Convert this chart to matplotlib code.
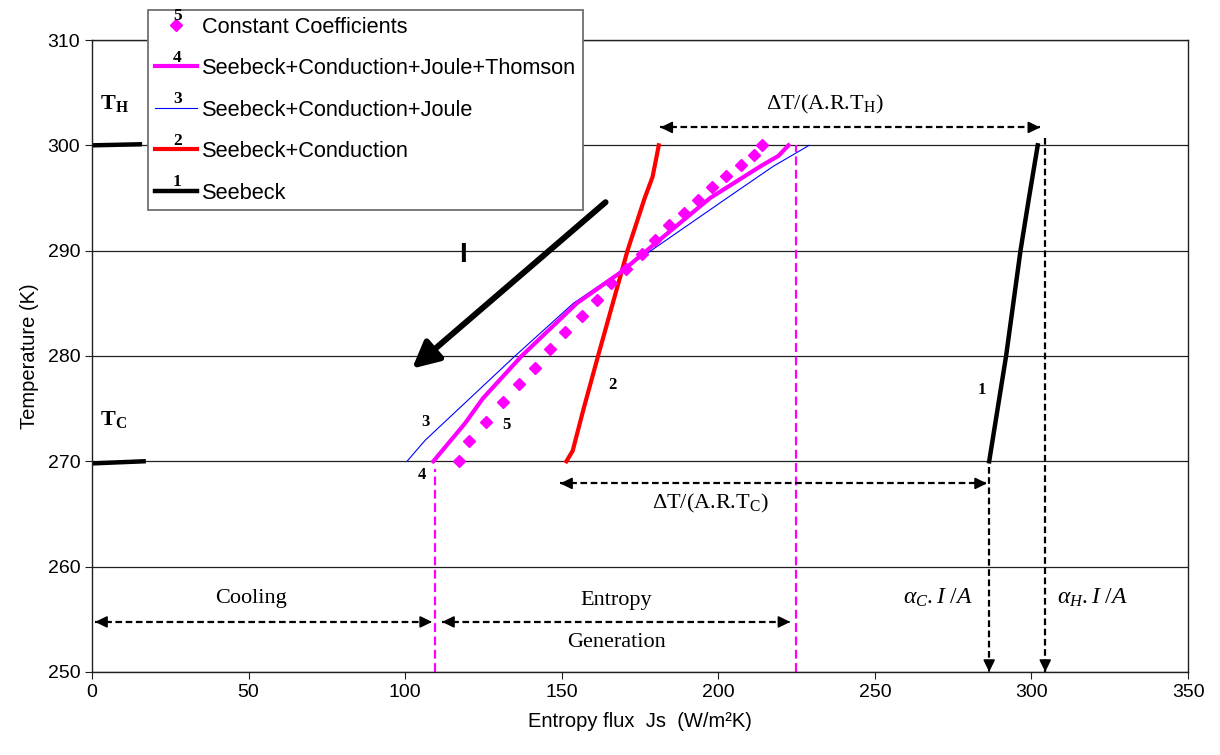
import matplotlib
matplotlib.use('Agg')
import matplotlib.pyplot as plt
from matplotlib.legend_handler import HandlerLine2D
from matplotlib.text import Text

plt.rcParams['font.family'] = 'Liberation Sans'
plt.rcParams['mathtext.fontset'] = 'custom'
plt.rcParams['mathtext.rm'] = 'Liberation Serif'
plt.rcParams['mathtext.it'] = 'Liberation Serif:italic'
plt.rcParams['mathtext.bf'] = 'Liberation Serif:bold'

# 1 : Seebeck
T1 = [270, 275, 280, 285, 290, 295, 300]
Js1 = [286.5, 289.2, 291.9, 294.2, 296.5, 299.2, 302.0]
# repères T_H / T_C à gauche
TH_x = [0, 15.3]
TH_y = [300.0, 300.1]
TC_x = [0, 16.5]
TC_y = [269.8, 270.0]

# 2 : Seebeck+Conduction
T2 = [270, 271, 275, 280, 285, 290, 295, 297, 300]
Js2 = [151.5, 153.5, 157.0, 161.6, 166.3, 171.0, 176.5, 179.0, 181.0]

# 3 : Seebeck+Conduction+Joule
T3 = [270, 272, 280, 285, 288, 290, 295, 298, 300]
Js3 = [100.6, 106.4, 135.1, 153.7, 168.6, 178.5, 202.8, 217.5, 229.0]

# 4 : Seebeck+Conduction+Joule+Thomson
T4 = [270, 273.6, 276, 280, 285, 288, 290, 295, 298, 299, 300]
Js4 = [109.0, 119.1, 124.9, 137.2, 154.8, 169.1, 177.1, 197.4, 213.4, 219.2, 222.4]

# 5 : Constant Coefficients
T5 = [270.0, 271.9, 273.7, 275.6, 277.3, 278.9, 280.7, 282.3, 283.8, 285.3, 286.9,
      288.3, 289.7, 291.0, 292.4, 293.6, 294.8, 296.0, 297.1, 298.1, 299.1, 300.0]
Js5 = [117.2, 120.5, 125.8, 131.1, 136.2, 141.5, 146.3, 151.1, 156.4, 161.2, 165.6,
       170.4, 175.5, 179.8, 184.4, 189.1, 193.4, 198.1, 202.4, 207.1, 211.4, 213.9]

labels = ['Constant Coefficients', 'Seebeck+Conduction+Joule+Thomson',
          'Seebeck+Conduction+Joule', 'Seebeck+Conduction', 'Seebeck']
nums = ['5', '4', '3', '2', '1']

serif = 'Liberation Serif'


class NumHandler(HandlerLine2D):
    # trait de légende avec son numéro au-dessus
    def __init__(self, num, **kw):
        super().__init__(**kw)
        self.num = num

    def create_artists(self, legend, orig_handle, xdescent, ydescent, width, height, fontsize, trans):
        arts = super().create_artists(legend, orig_handle, xdescent, ydescent, width, height,
                                      fontsize, trans)
        t = Text(width / 2 - xdescent + 1, (height - ydescent) / 2 + 0.5, self.num,
                 ha='center', va='bottom', fontsize=12.5, fontweight='bold', family=serif,
                 transform=trans)
        arts.append(t)
        return arts


def fleche(x0, y0, x1, y1, deux=True):
    ax.plot([x0, x1], [y0, y1], color='k', lw=1.6, ls=(0, (3, 1.6)), zorder=4)
    ends = [((x0, y0), (x1, y1))]
    if deux:
        ends.append(((x1, y1), (x0, y0)))
    for a, b in ends:
        xa = b[0] - (b[0] - a[0]) * 0.01
        ya = b[1] - (b[1] - a[1]) * 0.01
        ax.annotate('', xy=b, xytext=(xa, ya),
                    arrowprops=dict(arrowstyle='-|>,head_length=0.45,head_width=0.22',
                                    mutation_scale=16, color='k', lw=1.2,
                                    shrinkA=0, shrinkB=0), zorder=5)


fig = plt.figure(figsize=(12.2, 7.55), dpi=100)
ax = fig.add_subplot(111)
fig.subplots_adjust(left=0.0754, right=0.9738, top=0.947, bottom=0.110)

ax.plot(TH_x, TH_y, color='k', lw=3.2)
ax.plot(TC_x, TC_y, color='k', lw=3.2)

l1, = ax.plot(Js1, T1, color='k', lw=3.2, zorder=3)
l2, = ax.plot(Js2, T2, color='#ff0000', lw=3, zorder=3)
l3, = ax.plot(Js3, T3, color='#0000ff', lw=0.8, zorder=3)
l4, = ax.plot(Js4, T4, color='#ff00ff', lw=3, zorder=3)
l5, = ax.plot(Js5, T5, ls='none', marker='D', ms=6, color='#ff00ff', zorder=3)

# limites magenta
ax.plot([109.5, 109.5], [250, 269.3], color='#ff00ff', lw=1.6, ls=(0, (4, 2)))
ax.plot([224.8, 224.8], [250, 300], color='#ff00ff', lw=1.6, ls=(0, (4, 2)))

# flèches en pointillés
fleche(181.5, 301.7, 302.8, 301.7)
fleche(149.5, 267.9, 285.8, 267.9)
fleche(1.0, 254.75, 108.6, 254.75)
fleche(111.8, 254.75, 223.0, 254.75)
fleche(286.5, 269.5, 286.5, 250.0, deux=False)
fleche(304.4, 300.7, 304.4, 250.0, deux=False)

# courant I
ax.annotate('', xy=(102.2, 278.8), xytext=(164.0, 294.6),
            arrowprops=dict(arrowstyle='-|>,head_length=0.8,head_width=0.4',
                            mutation_scale=20, color='k', lw=4.3, shrinkA=0, shrinkB=0))
ax.text(118.5, 289.6, 'I', fontsize=20, fontweight='bold', ha='center', va='center')

# numéros des courbes
for n, x, y in [('1', 284.1, 276.8), ('2', 166.2, 277.2), ('3', 106.6, 273.7),
                ('4', 105.3, 268.7), ('5', 132.4, 273.4)]:
    ax.text(x, y, n, fontsize=12, fontweight='bold', family=serif, ha='center', va='center')

ax.text(2.5, 304.0, r'$\mathbf{T}_\mathbf{H}$', fontsize=16, ha='left', va='center')
ax.text(2.5, 274.0, r'$\mathbf{T}_\mathbf{C}$', fontsize=16, ha='left', va='center')

ax.text(234.1, 303.9, r'ΔT/(A.R.T$_\mathregular{H}$)', fontsize=16, family=serif,
        ha='center', va='center')
ax.text(197.4, 266.0, r'ΔT/(A.R.T$_\mathregular{C}$)', fontsize=16, family=serif,
        ha='center', va='center')
ax.text(50.7, 257.0, 'Cooling', fontsize=16, family=serif, ha='center', va='center')
ax.text(167.5, 256.8, 'Entropy', fontsize=16, family=serif, ha='center', va='center')
ax.text(167.5, 252.8, 'Generation', fontsize=16, family=serif, ha='center', va='center')
ax.text(270.2, 257.0, r'$\alpha_C.I\ /A$', fontsize=17, ha='center', va='center')
ax.text(319.4, 257.0, r'$\alpha_H.I\ /A$', fontsize=17, ha='center', va='center')

ax.set_xlim(0, 350)
ax.set_ylim(250, 310)
ax.set_xticks(range(0, 351, 50))
ax.set_yticks(range(250, 311, 10))
ax.yaxis.grid(True, color='#202020', lw=0.9)
ax.tick_params(labelsize=14, length=5, direction='out', color='#202020')
for s in ax.spines.values():
    s.set_color('#202020')
    s.set_linewidth(1.0)
ax.set_xlabel('Entropy flux  Js  (W/m²K)', fontsize=14.5, labelpad=8)
ax.set_ylabel('Temperature (K)', fontsize=14.5, labelpad=6)

handles = [l5, l4, l3, l2, l1]
leg = ax.legend(handles, labels, loc='upper left', bbox_to_anchor=(148 / 1220, 1 - 10 / 755),
                bbox_transform=fig.transFigure, borderaxespad=0, fontsize=15.7,
                handlelength=1.97, handletextpad=0.2, labelspacing=0.94, borderpad=0.3,
                numpoints=1, fancybox=False, framealpha=1,
                handler_map={h: NumHandler(n, numpoints=1) for h, n in zip(handles, nums)})
leg.get_frame().set_edgecolor('#707070')
leg.get_frame().set_linewidth(1.3)
leg.set_zorder(10)

fig.savefig('out.png', dpi=100)
